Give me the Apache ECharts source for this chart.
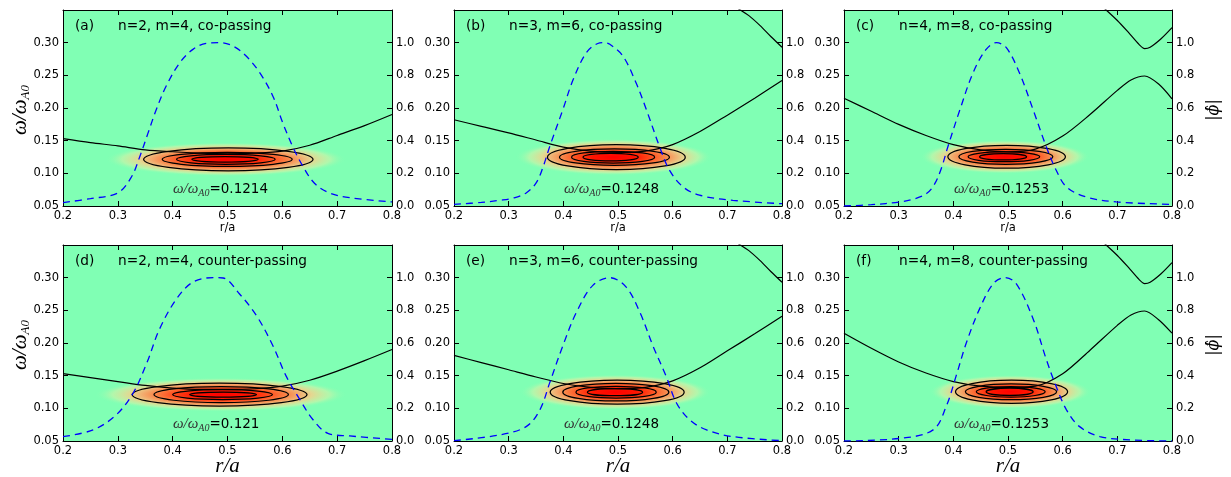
<!DOCTYPE html>
<html>
<head>
<meta charset="utf-8">
<script src="https://cdn.jsdelivr.net/npm/echarts@6/dist/echarts.min.js"></script>
<style>
html,body{margin:0;padding:0;background:#fff;}
#chart{width:1231px;height:477px;}
</style>
</head>
<body>
<div id="chart"></div>
<script>
// ---- panel text ----
const panelTags = ['(a)', '(b)', '(c)', '(d)', '(e)', '(f)'];
const panelTitles = [
  'n=2, m=4, co-passing', 'n=3, m=6, co-passing', 'n=4, m=8, co-passing',
  'n=2, m=4, counter-passing', 'n=3, m=6, counter-passing', 'n=4, m=8, counter-passing'
];
// eigenmode frequency of each panel (omega / omega_A0)
const modeFreq = [0.1214, 0.1248, 0.1253, 0.121, 0.1248, 0.1253];

// ---- axis ranges ----
const rRange = [0.2, 0.8, 0.1];
const omegaRange = [0.05, 0.35, 0.05];
const phiRange = [0, 1.2, 0.2];

// ---- Alfven continuum, lower branch [r/a, omega] ----
const contLowA = [[0.2,0.153],[0.25,0.147],[0.3,0.142],[0.35,0.136],[0.4,0.133],[0.45,0.131],[0.5,0.130],[0.55,0.131],[0.6,0.134],[0.65,0.143],[0.7,0.158],[0.75,0.173],[0.8,0.190]];
const contLowB = [[0.2,0.182],[0.25,0.172],[0.3,0.162],[0.35,0.151],[0.4,0.140],[0.45,0.134],[0.5,0.132],[0.55,0.134],[0.6,0.144],[0.65,0.164],[0.7,0.189],[0.75,0.215],[0.8,0.242]];
const contLowC = [[0.2,0.215],[0.25,0.195],[0.3,0.175],[0.35,0.158],[0.4,0.144],[0.45,0.136],[0.5,0.133],[0.55,0.137],[0.6,0.157],[0.65,0.190],[0.7,0.227],[0.725,0.243],[0.75,0.249],[0.775,0.237],[0.8,0.214]];
const contLowD = [[0.2,0.153],[0.25,0.147],[0.3,0.141],[0.35,0.135],[0.4,0.131],[0.45,0.129],[0.5,0.129],[0.55,0.130],[0.6,0.134],[0.65,0.143],[0.7,0.157],[0.75,0.173],[0.8,0.190]];
const contLowE = [[0.2,0.181],[0.25,0.170],[0.3,0.159],[0.35,0.148],[0.4,0.138],[0.45,0.132],[0.5,0.130],[0.55,0.132],[0.6,0.142],[0.65,0.162],[0.7,0.188],[0.75,0.214],[0.8,0.241]];
const contLowF = [[0.2,0.215],[0.25,0.192],[0.3,0.171],[0.35,0.154],[0.4,0.141],[0.45,0.134],[0.5,0.132],[0.55,0.134],[0.6,0.153],[0.65,0.189],[0.7,0.227],[0.725,0.243],[0.75,0.249],[0.775,0.236],[0.8,0.215]];

// ---- Alfven continuum, upper branch ----
const contUpB = [[0.72,0.352],[0.74,0.341],[0.76,0.326],[0.78,0.309],[0.8,0.293]];
const contUpC = [[0.677,0.352],[0.7,0.334],[0.72,0.316],[0.74,0.297],[0.75,0.291],[0.76,0.293],[0.78,0.306],[0.8,0.323]];
const contUpE = [[0.72,0.352],[0.74,0.341],[0.76,0.326],[0.78,0.309],[0.8,0.293]];
const contUpF = [[0.677,0.352],[0.7,0.334],[0.72,0.316],[0.74,0.297],[0.75,0.291],[0.76,0.293],[0.78,0.306],[0.8,0.323]];

// ---- radial mode structure |phi| [r/a, |phi|] ----
const phiA = [[0.2,0.021],[0.25,0.045],[0.3,0.08],[0.325,0.179],[0.34,0.302],[0.355,0.446],[0.37,0.589],[0.388,0.733],[0.413,0.877],[0.437,0.959],[0.461,0.996],[0.486,1.0],[0.51,0.979],[0.534,0.918],[0.559,0.815],[0.583,0.671],[0.601,0.507],[0.619,0.363],[0.638,0.24],[0.659,0.138],[0.686,0.08],[0.723,0.051],[0.8,0.025]];
const phiB = [[0.2,0.01],[0.25,0.022],[0.284,0.035],[0.31,0.05],[0.332,0.08],[0.35,0.14],[0.362,0.23],[0.375,0.363],[0.399,0.589],[0.418,0.774],[0.442,0.938],[0.463,0.995],[0.475,1.0],[0.485,0.99],[0.509,0.918],[0.533,0.754],[0.552,0.589],[0.576,0.363],[0.594,0.22],[0.619,0.117],[0.649,0.066],[0.71,0.035],[0.8,0.014]];
const phiC = [[0.2,0.0],[0.25,0.008],[0.302,0.025],[0.33,0.045],[0.351,0.076],[0.365,0.13],[0.378,0.23],[0.39,0.363],[0.412,0.589],[0.436,0.815],[0.46,0.959],[0.479,1.0],[0.497,0.969],[0.521,0.815],[0.546,0.589],[0.57,0.363],[0.588,0.22],[0.607,0.117],[0.643,0.055],[0.698,0.025],[0.8,0.01]];
const phiD = [[0.2,0.027],[0.255,0.068],[0.297,0.16],[0.328,0.294],[0.353,0.479],[0.376,0.685],[0.407,0.87],[0.437,0.973],[0.474,1.0],[0.492,0.998],[0.522,0.9],[0.553,0.767],[0.583,0.582],[0.607,0.397],[0.632,0.253],[0.656,0.13],[0.683,0.047],[0.723,0.031],[0.8,0.01]];
const phiE = [[0.2,0.002],[0.283,0.037],[0.332,0.088],[0.357,0.19],[0.375,0.356],[0.399,0.582],[0.424,0.788],[0.454,0.953],[0.485,1.0],[0.515,0.942],[0.54,0.788],[0.564,0.582],[0.588,0.397],[0.607,0.233],[0.631,0.13],[0.662,0.068],[0.71,0.027],[0.8,0.002]];
const phiF = [[0.2,0.0],[0.302,0.016],[0.363,0.068],[0.387,0.212],[0.405,0.397],[0.424,0.603],[0.448,0.809],[0.473,0.963],[0.494,1.0],[0.515,0.963],[0.546,0.747],[0.57,0.5],[0.588,0.335],[0.607,0.191],[0.631,0.088],[0.668,0.027],[0.729,0.006],[0.8,0.0]];

// ---- spectral intensity: glow [r centre, half-width in r, half-width in omega] ----
const glowA = [0.497, 0.22, 0.026];
const glowB = [0.492, 0.18, 0.028];
const glowC = [0.494, 0.155, 0.026];
const glowD = [0.488, 0.23, 0.026];
const glowE = [0.495, 0.175, 0.027];
const glowF = [0.504, 0.148, 0.026];

// ---- intensity contours [r left, r right, half-width in omega] ----
const levelsA = [[0.347,0.656,0.0175],[0.381,0.618,0.0107],[0.407,0.587,0.0075],[0.435,0.556,0.0042]];
const levelsB = [[0.371,0.623,0.019],[0.393,0.594,0.0125],[0.415,0.567,0.009],[0.436,0.537,0.0058]];
const levelsC = [[0.390,0.605,0.0175],[0.410,0.582,0.0115],[0.427,0.558,0.0075],[0.448,0.534,0.0048]];
const levelsD = [[0.326,0.645,0.0175],[0.366,0.611,0.0122],[0.400,0.582,0.0076],[0.431,0.553,0.004]];
const levelsE = [[0.376,0.621,0.0185],[0.399,0.593,0.0135],[0.423,0.570,0.009],[0.444,0.545,0.0055]];
const levelsF = [[0.404,0.609,0.0177],[0.422,0.589,0.012],[0.442,0.568,0.008],[0.460,0.546,0.0055]];

const contLow = [contLowA, contLowB, contLowC, contLowD, contLowE, contLowF];
const contUp = [null, contUpB, contUpC, null, contUpE, contUpF];
const phiProfiles = [phiA, phiB, phiC, phiD, phiE, phiF];
const glows = [glowA, glowB, glowC, glowD, glowE, glowF];
const levels = [levelsA, levelsB, levelsC, levelsD, levelsE, levelsF];

// ---- layout ----
const panelBoxes = [
  {left: 63, top: 10, width: 329}, {left: 454, top: 10, width: 328}, {left: 844, top: 10, width: 328},
  {left: 63, top: 245, width: 329}, {left: 454, top: 245, width: 328}, {left: 844, top: 245, width: 328}
];
const PANEL_H = 196;
const BG = 'rgb(128,255,180)';
const SANS = 'DejaVu Sans';
const SERIF = 'Liberation Serif';

const grids = [], xAxes = [], yAxes = [], series = [], graphics = [];

panelBoxes.forEach((b, i) => {
  grids.push({left: b.left, top: b.top, width: b.width, height: PANEL_H,
    show: true, backgroundColor: BG, borderWidth: 0});

  const line = {show: true, onZero: false, lineStyle: {color: '#000', width: 1}};
  const tick = {show: true, inside: true, length: 5, lineStyle: {color: '#000', width: 1}};
  const lab = {color: '#000', fontFamily: SANS, fontSize: 11.5, margin: 4};

  xAxes.push({gridIndex: i, type: 'value', position: 'bottom', min: rRange[0], max: rRange[1], interval: rRange[2],
    axisLine: line, axisTick: tick, splitLine: {show: false},
    axisLabel: Object.assign({formatter: v => v.toFixed(1)}, lab)});
  xAxes.push({gridIndex: i, type: 'value', position: 'top', min: rRange[0], max: rRange[1], interval: rRange[2],
    axisLine: line, axisTick: tick, splitLine: {show: false}, axisLabel: {show: false}});
  yAxes.push({gridIndex: i, type: 'value', position: 'left', min: omegaRange[0], max: omegaRange[1], interval: omegaRange[2],
    axisLine: line, axisTick: tick, splitLine: {show: false},
    axisLabel: Object.assign({formatter: v => v.toFixed(2), showMaxLabel: false}, lab)});
  yAxes.push({gridIndex: i, type: 'value', position: 'right', min: phiRange[0], max: phiRange[1], interval: phiRange[2],
    axisLine: line, axisTick: tick, splitLine: {show: false},
    axisLabel: Object.assign({formatter: v => v.toFixed(1), showMaxLabel: false}, lab)});

  const xi = i * 2, yi = i * 2, yr = i * 2 + 1;
  const w0 = modeFreq[i];
  const g = glows[i];

  // diffuse spectral intensity around the eigenmode
  series.push({
    type: 'custom', coordinateSystem: 'cartesian2d', xAxisIndex: xi, yAxisIndex: yi, clip: true, z: 1,
    silent: true,
    data: [[g[0], w0, g[1], g[2]]],
    renderItem: (params, api) => {
      const r0 = api.value(0), om = api.value(1), dr = api.value(2), dw = api.value(3);
      const c = api.coord([r0, om]);
      const e = api.coord([r0 + dr, om + dw]);
      const rx = e[0] - c[0], ry = c[1] - e[1];
      return {
        type: 'circle', x: c[0], y: c[1], scaleY: ry / rx,
        shape: {cx: 0, cy: 0, r: rx},
        style: {fill: {type: 'radial', x: 0.5, y: 0.5, r: 0.5, colorStops: [
          {offset: 0.0, color: 'rgb(255,0,0)'},
          {offset: 0.22, color: 'rgb(255,20,0)'},
          {offset: 0.36, color: 'rgb(255,70,25)'},
          {offset: 0.5, color: 'rgb(250,125,65)'},
          {offset: 0.62, color: 'rgb(242,172,110)'},
          {offset: 0.72, color: 'rgb(228,215,145)'},
          {offset: 0.86, color: 'rgba(190,245,170,0.8)'},
          {offset: 1.0, color: 'rgba(128,255,180,0)'}
        ]}}
      };
    }
  });

  // intensity contour lines
  series.push({
    type: 'custom', coordinateSystem: 'cartesian2d', xAxisIndex: xi, yAxisIndex: yi, clip: true, z: 2,
    silent: true,
    data: levels[i].map(l => [l[0], l[1], l[2], w0]),
    renderItem: (params, api) => {
      const rl = api.value(0), rr = api.value(1), hw = api.value(2), om = api.value(3);
      const p1 = api.coord([rl, om - hw]);
      const p2 = api.coord([rr, om + hw]);
      return {
        type: 'ellipse',
        shape: {cx: (p1[0] + p2[0]) / 2, cy: (p1[1] + p2[1]) / 2, rx: (p2[0] - p1[0]) / 2, ry: (p1[1] - p2[1]) / 2},
        style: {fill: null, stroke: '#000', lineWidth: 1.25}
      };
    }
  });

  // shear Alfven continuum
  const contStyle = {type: 'line', xAxisIndex: xi, yAxisIndex: yi, showSymbol: false, symbol: 'none', smooth: 0.3,
    lineStyle: {color: '#000', width: 1.2}, z: 3, silent: true};
  series.push(Object.assign({data: contLow[i]}, contStyle));
  if (contUp[i]) series.push(Object.assign({data: contUp[i]}, contStyle));

  // radial mode structure
  series.push({type: 'line', xAxisIndex: xi, yAxisIndex: yr, showSymbol: false, symbol: 'none', smooth: 0.35,
    data: phiProfiles[i], lineStyle: {color: '#0000ff', width: 1.3, type: [7, 5]}, z: 4, silent: true});

  // panel tag and title
  graphics.push({type: 'text', x: b.left + 12, y: b.top + 16,
    style: {text: panelTags[i], fontFamily: SANS, fontSize: 13.7, fill: '#000', verticalAlign: 'middle'}});
  graphics.push({type: 'text', x: b.left + 55, y: b.top + 16,
    style: {text: panelTitles[i], fontFamily: SANS, fontSize: 13.7, fill: '#000', verticalAlign: 'middle'}});

  // eigenfrequency annotation
  graphics.push({type: 'text', x: b.left + 110, y: b.top + 179,
    style: {text: '{m|ω/ω}{s|A0}{v|=' + modeFreq[i] + '}', verticalAlign: 'middle',
      rich: {
        m: {fontFamily: SERIF, fontStyle: 'italic', fontSize: 15, fill: '#333', lineHeight: 18, verticalAlign: 'middle'},
        s: {fontFamily: SERIF, fontStyle: 'italic', fontSize: 10, fill: '#333', lineHeight: 18, verticalAlign: 'bottom'},
        v: {fontFamily: SANS, fontSize: 13.5, fill: '#000', lineHeight: 18, verticalAlign: 'middle'}
      }}});

  // x-axis title
  const cx = b.left + b.width / 2;
  if (i < 3) {
    graphics.push({type: 'text', x: cx, y: b.top + PANEL_H + 22,
      style: {text: 'r/a', fontFamily: SANS, fontSize: 11.5, fill: '#000', align: 'center', verticalAlign: 'middle'}});
  } else {
    graphics.push({type: 'text', x: cx, y: b.top + PANEL_H + 25,
      style: {text: 'r/a', fontFamily: SERIF, fontStyle: 'italic', fontSize: 21, fill: '#000', align: 'center', verticalAlign: 'middle'}});
  }
});

// y-axis titles
[110, 345].forEach(y => {
  graphics.push({type: 'text', x: 20, y: y, rotation: Math.PI / 2,
    style: {text: '{m|ω/ω}{s|A0}', align: 'center', verticalAlign: 'middle',
      rich: {
        m: {fontFamily: SERIF, fontStyle: 'italic', fontSize: 21, fill: '#000', lineHeight: 24, verticalAlign: 'middle'},
        s: {fontFamily: SERIF, fontStyle: 'italic', fontSize: 13, fill: '#000', lineHeight: 24, verticalAlign: 'bottom'}
      }}});
  graphics.push({type: 'text', x: 1214, y: y, rotation: Math.PI / 2,
    style: {text: '|ϕ̂|', fontFamily: 'DejaVu Serif', fontStyle: 'italic', fontSize: 16, fill: '#000',
      align: 'center', verticalAlign: 'middle'}});
});

const chart = echarts.init(document.getElementById('chart'), null, {renderer: 'canvas'});
chart.setOption({
  animation: false,
  backgroundColor: '#fff',
  grid: grids,
  xAxis: xAxes,
  yAxis: yAxes,
  series: series,
  graphic: graphics
});
</script>
</body>
</html>
